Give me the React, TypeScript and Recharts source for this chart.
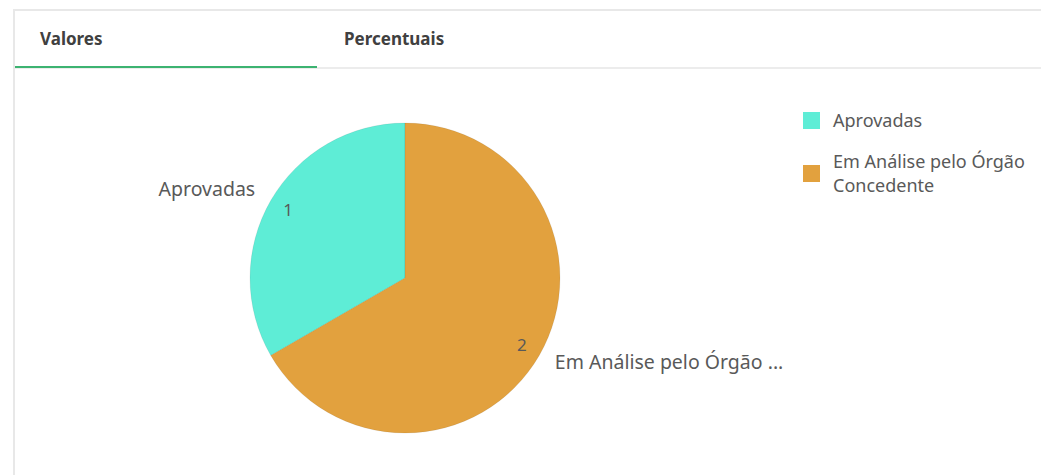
import React from 'react';
import { PieChart, Pie, Cell, Legend } from 'recharts';

const categories = ['Aprovadas', 'Em Análise pelo Órgão Concedente'];
const shortLabels = ['Aprovadas', 'Em Análise pelo Órgão ...'];
const values = [1, 2];
const colors = ['#5EEDD6', '#E2A13E'];
const tabs = ['Valores', 'Percentuais'];

const data = categories.map((name, i) => ({ name, value: values[i], short: shortLabels[i] }));

const FONT = '"Noto Sans", sans-serif';
const RADIAN = Math.PI / 180;

const renderLabel = (props: any) => {
  const { cx, cy, midAngle, outerRadius, value, index } = props;
  const cos = Math.cos(-midAngle * RADIAN);
  const sin = Math.sin(-midAngle * RADIAN);
  const ri = outerRadius * 0.87;
  const ro = outerRadius + 18;
  const anchor = cos >= 0 ? 'start' : 'end';
  return (
    <g>
      <text
        x={cx + ri * cos}
        y={cy + ri * sin - 1}
        fill="#595959"
        fontSize={17}
        fontFamily={FONT}
        textAnchor="middle"
        dominantBaseline="central"
      >
        {value}
      </text>
      <text
        x={cx + ro * cos}
        y={cy + ro * sin - 3}
        fill="#595959"
        fontSize={19.5}
        fontFamily={FONT}
        textAnchor={anchor}
        dominantBaseline="central"
      >
        {shortLabels[index]}
      </text>
    </g>
  );
};

const renderLegend = () => (
  <div style={{ fontFamily: FONT, fontSize: 18, color: '#595959', lineHeight: '24px' }}>
    {categories.map((name, i) => (
      <div key={name} style={{ display: 'flex', alignItems: 'center', marginBottom: 17 }}>
        <span
          style={{
            width: 17,
            height: 17,
            background: colors[i],
            flex: '0 0 auto',
            marginRight: 13,
          }}
        />
        <span style={{ width: 200 }}>{name}</span>
      </div>
    ))}
  </div>
);

export default function App() {
  return (
    <div
      style={{
        position: 'absolute',
        left: 0,
        top: 0,
        width: 1041,
        height: 475,
        background: '#fff',
        overflow: 'hidden',
      }}
    >
      <div
        style={{
          position: 'absolute',
          left: 13,
          top: 9,
          width: 1040,
          height: 480,
          borderTop: '2px solid #e8e8e8',
          borderLeft: '2px solid #e8e8e8',
          boxSizing: 'border-box',
        }}
      >
        <div
          style={{
            position: 'relative',
            height: 56,
            borderBottom: '2px solid #ececec',
            fontFamily: FONT,
            fontWeight: 700,
            fontSize: 17,
            color: '#404040',
          }}
        >
          <span style={{ position: 'absolute', left: 25, top: 16 }}>{tabs[0]}</span>
          <span style={{ position: 'absolute', left: 329, top: 16 }}>{tabs[1]}</span>
          <div
            style={{
              position: 'absolute',
              left: 0,
              width: 302,
              bottom: -1,
              height: 2,
              background: '#3cb371',
            }}
          />
        </div>
        <div style={{ position: 'absolute', left: 0, top: 58 }}>
          <PieChart width={1026} height={410} margin={{ top: 0, right: 0, bottom: 0, left: 0 }}>
            <Pie
              data={data}
              dataKey="value"
              nameKey="name"
              cx={390}
              cy={209}
              outerRadius={155}
              startAngle={210}
              endAngle={-150}
              stroke="rgba(0,0,0,0.12)"
              strokeWidth={0.6}
              label={renderLabel}
              labelLine={false}
              isAnimationActive={false}
            >
              {data.map((d, i) => (
                <Cell key={d.name} fill={colors[i]} />
              ))}
            </Pie>
            <Legend
              content={renderLegend}
              layout="vertical"
              align="right"
              verticalAlign="top"
              wrapperStyle={{ position: 'absolute', left: 788, top: 39, width: 240 }}
            />
          </PieChart>
        </div>
      </div>
    </div>
  );
}
